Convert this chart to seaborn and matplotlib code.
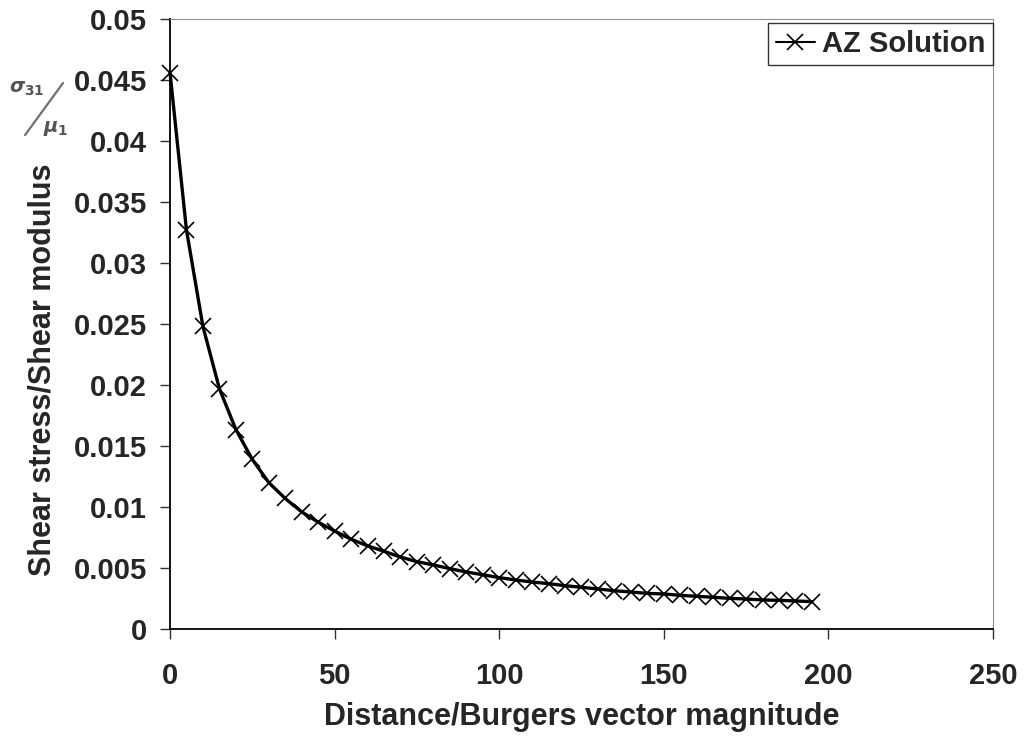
import matplotlib
matplotlib.use("Agg")
import matplotlib.pyplot as plt
from matplotlib.lines import Line2D
import seaborn as sns
import pandas as pd

distance = [0, 5, 10, 15, 20, 25, 30, 35, 40, 45, 50, 55, 60, 65, 70, 75, 80, 85, 90, 95,
            100, 105, 110, 115, 120, 125, 130, 135, 140, 145, 150, 155, 160, 165, 170, 175,
            180, 185, 190, 195]
stress_ratio = [0.0456, 0.0327, 0.0248, 0.0197, 0.01635, 0.0139, 0.0120, 0.0107, 0.0096, 0.00876,
                0.00803, 0.00736, 0.00682, 0.00637, 0.0059, 0.00552, 0.00525, 0.00495, 0.00467, 0.00445,
                0.00421, 0.00402, 0.00385, 0.00372, 0.00355, 0.00342, 0.00328, 0.00314, 0.00303, 0.00292,
                0.00287, 0.00276, 0.00268, 0.0026, 0.00251, 0.00246, 0.00238, 0.00235, 0.0023, 0.00224]
series_name = "AZ Solution"
x_ticks = [0, 50, 100, 150, 200, 250]
y_ticks = [0, 0.005, 0.01, 0.015, 0.02, 0.025, 0.03, 0.035, 0.04, 0.045, 0.05]
y_tick_labels = ["0", "0.005", "0.01", "0.015", "0.02", "0.025", "0.03", "0.035", "0.04", "0.045", "0.05"]

df = pd.DataFrame({"x": distance, "y": stress_ratio})

sns.set_style("white")
plt.rcParams["font.family"] = ["Liberation Sans", "DejaVu Sans"]
plt.rcParams["font.weight"] = "bold"

fig = plt.figure(figsize=(10.26, 7.38), dpi=100)
ax = fig.add_axes([0.1657, 0.1477, 0.8021, 0.8266])

sns.lineplot(data=df, x="x", y="y", ax=ax, color="black", linewidth=2.4,
             marker="x", markersize=11, markeredgewidth=1.2, markeredgecolor="black",
             label=series_name, clip_on=False)

ax.set_xlim(0, 250)
ax.set_ylim(0, 0.05)
ax.set_xticks(x_ticks)
ax.set_xticklabels([str(t) for t in x_ticks])
ax.set_yticks(y_ticks)
ax.set_yticklabels(y_tick_labels)
ax.tick_params(axis="both", direction="out", length=7.5, width=1, color="#303030",
               labelsize=21, bottom=True, left=True)
ax.tick_params(axis="x", pad=16)
ax.tick_params(axis="y", pad=9)
for lab in ax.get_xticklabels() + ax.get_yticklabels():
    lab.set_fontweight("bold")

ax.set_xlabel("Distance/Burgers vector magnitude", fontsize=22, fontweight="bold", labelpad=9)
ax.set_ylabel("Shear stress/Shear modulus", fontsize=22, fontweight="bold")
ax.yaxis.set_label_coords(-0.137, 0.4246)

ax.spines["left"].set_color("black")
ax.spines["bottom"].set_color("black")
ax.spines["left"].set_linewidth(1.3)
ax.spines["bottom"].set_linewidth(1.3)
ax.spines["top"].set_color("#909090")
ax.spines["right"].set_color("#909090")

leg = ax.legend(loc="upper right", bbox_to_anchor=(1.0, 0.994), frameon=True, fancybox=False,
                borderaxespad=0.0, prop={"size": 21, "weight": "bold"}, handlelength=1.35,
                handletextpad=0.25, borderpad=0.25)
leg.get_frame().set_edgecolor("black")
leg.get_frame().set_linewidth(1.0)
for h in leg.legend_handles:
    h.set_linewidth(1.5)

gray = "#555555"
fig.text(0.0263, 0.879, r"$\sigma_{31}$", fontsize=14, color=gray, ha="center", va="center")
fig.text(0.0546, 0.826, r"$\mu_1$", fontsize=14, color=gray, ha="center", va="center")
fig.add_artist(Line2D([0.0244, 0.0614], [0.817, 0.8875], transform=fig.transFigure,
                      color="#707070", linewidth=1.6))

fig.savefig("out.png", dpi=100)
